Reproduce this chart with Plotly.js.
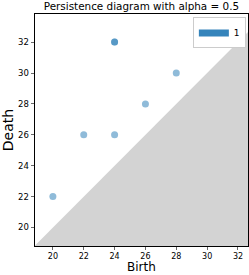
<!DOCTYPE html>
<html><head><meta charset="utf-8">
<script src="https://cdn.plot.ly/plotly-3.0.1.min.js"></script>
<style>body{margin:0;padding:0;background:#fff}#plot{width:249px;height:275px}</style>
</head><body><div id="plot"></div>
<script>
const births = [20, 22, 24, 24, 24, 26, 28];
const deaths = [22, 26, 26, 32, 32, 28, 30];
const xRange = [18.84, 32.65];
const yRange = [18.8, 33.82];
const tickVals = [20, 22, 24, 26, 28, 30, 32];
const seriesName = '1';

const lo = Math.min(xRange[0], yRange[0]);
const hi = xRange[1];
const traces = [
  {type:'scatter', mode:'lines', x:[lo, hi, hi, lo], y:[lo, hi, lo, lo], fill:'toself',
   fillcolor:'#d3d3d3', line:{width:0, color:'#d3d3d3'}, showlegend:false, hoverinfo:'skip'},
  {type:'scatter', mode:'markers', x:births, y:deaths, showlegend:false,
   marker:{color:'rgba(31,119,180,0.5)', size:7, line:{width:0}}},
  {type:'scatter', mode:'lines', x:[null], y:[null], name:seriesName, showlegend:true,
   line:{color:'rgba(31,119,180,0.9)', width:7}}
];
const layout = {
  width:249, height:275,
  margin:{l:35, r:1, t:14, b:29},
  paper_bgcolor:'#fff', plot_bgcolor:'#fff',
  font:{family:'DejaVu Sans', color:'#000', size:9},
  title:{text:'Persistence diagram with alpha = 0.5', font:{size:10.4}, x:0.568, xanchor:'center', y:0.99, yanchor:'top'},
  xaxis:{range:xRange, tickvals:tickVals, ticks:'outside', ticklen:3, tickwidth:0.8, ticklabelstandoff:-1,
    showgrid:false, zeroline:false, showline:true, linecolor:'#000', linewidth:1, mirror:true,
    tickfont:{size:8}, automargin:false},
  yaxis:{range:yRange, tickvals:tickVals, ticks:'outside', ticklen:3.5, tickwidth:0.8,
    showgrid:false, zeroline:false, showline:true, linecolor:'#000', linewidth:1, mirror:true,
    tickfont:{size:8.5}, automargin:false, title:{text:'Death', font:{size:14}, standoff:5}},
  annotations:[{text:'Birth', xref:'paper', yref:'paper', x:0.5, y:-0.125, xanchor:'center', yanchor:'bottom',
    showarrow:false, borderpad:0, font:{size:12}}],
  legend:{x:0.99, y:0.985, xanchor:'right', yanchor:'top', bgcolor:'#fff', bordercolor:'#ccc', borderwidth:1,
    font:{size:9}, itemwidth:30},
  showlegend:true
};
Plotly.newPlot('plot', traces, layout, {displayModeBar:false, staticPlot:true});
</script></body></html>
